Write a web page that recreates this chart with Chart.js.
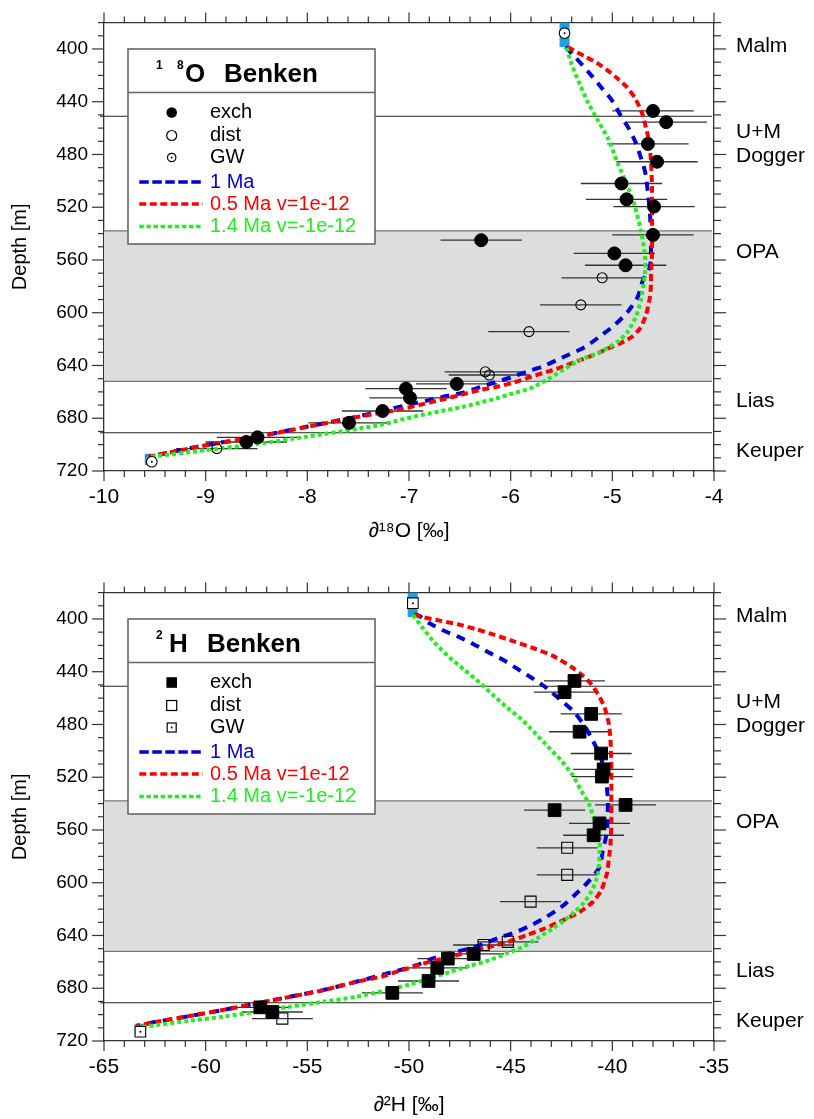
<!DOCTYPE html>
<html><head><meta charset="utf-8">
<script src="https://cdn.jsdelivr.net/npm/chart.js@4.4.0/dist/chart.umd.min.js"></script>
<style>
html,body{margin:0;padding:0;background:#fff;}
#c1{position:absolute;left:0;top:0;}
#c2{position:absolute;left:0;top:570px;}
</style></head><body>
<canvas id="c1" width="814" height="549"></canvas>
<canvas id="c2" width="814" height="549"></canvas>
<script>
const FONT = "'Liberation Sans', Arial, Helvetica, sans-serif";

// ---- depth axis (shared) ----
const depthMin = 380, depthMax = 720;
const depthTicks = [400, 440, 480, 520, 560, 600, 640, 680, 720];
const formationNames = ['Malm', 'U+M', 'Dogger', 'OPA', 'Lias', 'Keuper'];
const formationDepths = [397.7, 462.8, 481, 554.3, 667, 704.8];
const layerLines = [451, 691];
const opaTop = 538, opaBottom = 652;

// ---- sample depths (shared) ----
const exchDepth = [447, 455.5, 472, 485.5, 502, 514, 519.5, 541, 545, 555, 564, 654, 657.5, 664.5, 674.5, 683.5, 694.5, 698];
const distDepth = [573.5, 594, 614.3, 644.8, 647.2, 703];
const gwDepth = [388, 713];

// ---- delta 18O ----
const oTicks = [-10, -9, -8, -7, -6, -5, -4];
const exchO = [-4.60, -4.47, -4.65, -4.56, -4.91, -4.86, -4.59, -4.60, -6.29, -4.98, -4.87, -6.53, -7.03, -6.99, -7.26, -7.59, -8.49, -8.60];
const distO = [-5.10, -5.31, -5.82, -6.25, -6.21, -8.89];
const gwO = [-5.47, -9.53];
const errO = 0.4;
const o1MaDepth = [398.5, 406.6, 417.9, 428, 439.3, 450.2, 460, 470.9, 482.2, 492.3, 502.4, 525, 545, 565, 575.5, 588, 599.5, 609.5, 618.4, 626, 631.5, 636, 641, 644.9, 648.6, 651.7, 654.9, 658.2, 661.2, 663.8, 666.8, 669.5, 672.5, 678.9, 686.5, 694, 700.3, 707.9, 709.6];
const o1MaVal = [-5.46, -5.36, -5.23, -5.12, -5.00, -4.92, -4.84, -4.77, -4.72, -4.68, -4.66, -4.63, -4.62, -4.63, -4.70, -4.75, -4.85, -4.98, -5.13, -5.27, -5.42, -5.55, -5.69, -5.85, -5.98, -6.11, -6.24, -6.37, -6.50, -6.67, -6.83, -6.99, -7.16, -7.52, -8.01, -8.50, -8.99, -9.48, -9.58];
const o05Depth = [398.5, 402.8, 406, 411.1, 416.1, 421.7, 428.7, 436.8, 448.2, 459.5, 469.6, 484.7, 504.9, 530, 555.3, 570.4, 578, 588, 602, 612, 618.4, 623.4, 627.7, 632.2, 636, 639.8, 643.6, 646.6, 649.9, 653.2, 655.7, 658.7, 662.5, 666.3, 670, 673.3, 675.1, 678.9, 686.5, 694, 700.3, 707.9, 709.6];
const o05Val = [-5.44, -5.34, -5.26, -5.14, -5.05, -4.96, -4.86, -4.78, -4.71, -4.67, -4.64, -4.62, -4.61, -4.61, -4.61, -4.62, -4.62, -4.63, -4.67, -4.73, -4.81, -4.93, -5.06, -5.19, -5.32, -5.45, -5.59, -5.72, -5.85, -5.98, -6.11, -6.31, -6.50, -6.70, -6.90, -7.09, -7.22, -7.50, -8.00, -8.49, -8.98, -9.48, -9.58];
const o14Depth = [399, 411.6, 426.7, 440.6, 454.5, 468.3, 486, 502.4, 518.8, 537.7, 555.3, 570.4, 590.6, 603.3, 614.6, 620.9, 626, 631, 636, 643.6, 651.1, 657.4, 661.2, 665, 668.3, 671.3, 673.8, 676.3, 678.9, 681.9, 685.2, 694, 699.5, 704.1, 708.6, 709.6];
const o14Val = [-5.45, -5.40, -5.32, -5.24, -5.14, -5.04, -4.95, -4.86, -4.78, -4.72, -4.68, -4.68, -4.72, -4.77, -4.85, -4.93, -5.03, -5.16, -5.32, -5.49, -5.65, -5.81, -5.98, -6.14, -6.31, -6.47, -6.63, -6.80, -6.96, -7.12, -7.29, -8.01, -8.50, -8.99, -9.48, -9.58];
const oBcTop = [-5.47, 380, 398.5];
const oBcBottom = [-9.55, 707, 715.5];

// ---- delta 2H ----
const hTicks = [-65, -60, -55, -50, -45, -40, -35];
const exchH = [-41.86, -42.35, -41.04, -41.61, -40.55, -40.43, -40.51, -39.35, -42.84, -40.63, -40.92, -46.82, -48.09, -48.61, -49.04, -50.82, -57.31, -56.72];
const distH = [-42.22, -42.22, -44.02, -45.14, -46.33, -56.23];
const gwH = [-49.81, -63.21];
const errH = 1.5;
const h1MaDepth = [396.5, 397.7, 403.3, 409.1, 413.6, 419.1, 425, 431, 437.3, 444.4, 451.2, 460.7, 469.6, 480.9, 492.3, 502.3, 515, 527.6, 537.7, 555.3, 566.6, 575.5, 588.1, 599.5, 609.5, 618.4, 626, 632.2, 637.3, 641.5, 646, 649.9, 653.2, 657.4, 662.5, 666.3, 669.3, 675.1, 681.4, 686.5, 691.5, 696.5, 701.1, 705.4, 708.6];
const h1MaVal = [-49.75, -49.48, -48.99, -48.25, -47.55, -46.82, -46.12, -45.38, -44.72, -43.99, -43.33, -42.60, -41.94, -41.37, -40.96, -40.63, -40.38, -40.27, -40.22, -40.24, -40.33, -40.47, -40.63, -41.20, -41.86, -42.51, -43.25, -43.99, -44.72, -45.54, -46.28, -47.02, -47.92, -48.82, -49.64, -50.46, -51.20, -52.59, -54.23, -55.87, -57.51, -59.15, -60.79, -62.42, -63.41];
const h05Depth = [396.5, 397.7, 401, 404, 407.8, 412.1, 417.2, 422.2, 428, 436.8, 443.1, 449.4, 457, 467.1, 479.7, 492.3, 509.9, 530.1, 555.3, 570.4, 578, 593.1, 605.8, 614.6, 622.2, 628.4, 634.7, 639.8, 644.9, 648.6, 652.4, 656.2, 660, 663.8, 667.6, 671.3, 675.1, 681.4, 686.5, 691.5, 696.5, 701.1, 705.4, 708.6];
const h05Val = [-49.75, -49.56, -48.58, -47.60, -46.69, -45.79, -44.81, -43.87, -42.92, -41.97, -41.45, -41.04, -40.71, -40.38, -40.17, -40.09, -40.05, -40.05, -40.05, -40.09, -40.14, -40.27, -40.55, -40.96, -41.61, -42.43, -43.33, -44.23, -45.14, -46.04, -47.02, -48.00, -48.99, -49.81, -50.62, -51.36, -52.60, -54.20, -55.85, -57.50, -59.15, -60.80, -62.40, -63.40];
const h14Depth = [397, 407, 417.9, 429.3, 438.6, 448.2, 457.5, 466.6, 475.9, 486, 496.8, 507.4, 518.8, 530.1, 540.2, 552.8, 562.9, 578, 593.1, 604.5, 614.6, 622.2, 628.4, 634.7, 641.1, 648.6, 653.6, 658.7, 663, 667.6, 672.5, 677.1, 681.4, 686.5, 690.3, 694, 697.8, 701.6, 704.6, 707.9, 709.6];
const h14Val = [-49.81, -49.32, -48.74, -48.00, -47.27, -46.53, -45.88, -45.22, -44.48, -43.83, -43.17, -42.51, -41.94, -41.53, -41.15, -40.87, -40.63, -40.63, -40.71, -40.96, -41.37, -41.86, -42.35, -42.92, -43.58, -44.40, -45.22, -46.04, -47.02, -48.00, -48.99, -49.97, -51.11, -52.59, -54.23, -55.87, -57.51, -59.15, -60.79, -62.42, -63.24];
const hBcTop = [-49.82, 380, 398.5];
const hBcBottom = [-63.25, 707, 715.5];

const seriesLabels = ['exch', 'dist', 'GW', '1 Ma', '0.5 Ma v=1e-12', '1.4 Ma v=-1e-12'];
const COL_BLUE = '#0000dd', COL_RED = '#ff0000', COL_GREEN = '#22ee22', COL_CYAN = '#1da1e0';
const DASH = {blue: [9, 7], red: [7, 4], green: [4, 3]};

function pts(vals, depths) { return vals.map((v, i) => ({x: v, y: depths[i]})); }
function bc(a) { return [{x: a[0], y: a[1]}, {x: a[0], y: a[2]}]; }

function makeDeco(cfg) {
  return {
    id: 'deco',
    beforeDatasetsDraw(chart) {
      const {ctx, chartArea: a} = chart; const xs = chart.scales.x, ys = chart.scales.y;
      ctx.save();
      const t = ys.getPixelForValue(opaTop), b = ys.getPixelForValue(opaBottom);
      ctx.fillStyle = '#dcdddd'; ctx.fillRect(a.left, t, a.right - a.left - 2, b - t);
      ctx.strokeStyle = '#777'; ctx.lineWidth = 1.2;
      ctx.beginPath(); ctx.moveTo(a.left, t); ctx.lineTo(a.right - 2, t); ctx.moveTo(a.left, b); ctx.lineTo(a.right - 2, b); ctx.stroke();
      ctx.strokeStyle = '#222'; ctx.lineWidth = 1.2;
      layerLines.forEach(d => { const p = ys.getPixelForValue(d); ctx.beginPath(); ctx.moveTo(a.left - 4, p); ctx.lineTo(a.right - 2, p); ctx.stroke(); });
      ctx.strokeStyle = '#333'; ctx.lineWidth = 1.3;
      cfg.bars.forEach(s => s[0].forEach((v, i) => {
        const py = ys.getPixelForValue(s[1][i]);
        ctx.beginPath(); ctx.moveTo(xs.getPixelForValue(v - cfg.err), py); ctx.lineTo(xs.getPixelForValue(v + cfg.err), py); ctx.stroke();
      }));
      ctx.restore();
    },
    afterDraw(chart) {
      const {ctx, chartArea: a} = chart;
      ctx.save();
      ctx.strokeStyle = '#333'; ctx.lineWidth = 1.2;
      const tick = (scale, side, minor, major, lMaj, lMin) => {
        const n = Math.round((scale.max - scale.min) / minor);
        for (let i = 0; i <= n; i++) {
          const v = scale.min + i * minor;
          const isMaj = Math.abs(v / major - Math.round(v / major)) < 1e-6;
          const len = isMaj ? lMaj : lMin;
          const p = scale.getPixelForValue(v);
          ctx.beginPath();
          if (side === 'bottom') { ctx.moveTo(p, a.bottom); ctx.lineTo(p, a.bottom + len); }
          if (side === 'top') { ctx.moveTo(p, a.top); ctx.lineTo(p, a.top - len); }
          if (side === 'left') { ctx.moveTo(a.left, p); ctx.lineTo(a.left - len, p); }
          if (side === 'right') { ctx.moveTo(a.right, p); ctx.lineTo(a.right + len, p); }
          ctx.stroke();
        }
      };
      tick(chart.scales.x, 'bottom', cfg.minorX, cfg.majorX, 10, 6);
      tick(chart.scales.x2, 'top', cfg.minorX, cfg.majorX, 10, 6);
      tick(chart.scales.y, 'left', 10, 40, 12, 6);
      tick(chart.scales.y2, 'right', 10, 40, 12, 7);

      // legend box
      const L = 128, T = 49, W = 247, H = 195;
      ctx.fillStyle = '#fff'; ctx.fillRect(L, T, W, H);
      ctx.strokeStyle = '#666'; ctx.lineWidth = 1.6; ctx.strokeRect(L, T, W, H);
      ctx.beginPath(); ctx.moveTo(L, 92.5); ctx.lineTo(L + W, 92.5); ctx.stroke();
      ctx.fillStyle = '#000'; ctx.textAlign = 'left'; ctx.textBaseline = 'alphabetic';
      ctx.font = 'bold 12px ' + FONT;
      cfg.titleSup.forEach(s => ctx.fillText(s[0], s[1], 68.5));
      ctx.font = 'bold 26px ' + FONT;
      cfg.titleMain.forEach(s => ctx.fillText(s[0], s[1], 81.5));
      const rows = [112.5, 135.5, 157.5, 182, 204, 226.5];
      const mx = 171.7;
      const ds = chart.data.datasets;
      ctx.font = '20px ' + FONT; ctx.textBaseline = 'middle';
      const txtCol = ['#000', '#000', '#000', COL_BLUE, COL_RED, COL_GREEN];
      seriesLabels.forEach((lab, i) => {
        ctx.fillStyle = txtCol[i];
        ctx.fillText(lab, 210, rows[i]);
      });
      // markers
      const y0 = rows[0], y1 = rows[1], y2 = rows[2];
      ctx.lineWidth = 1.2; ctx.strokeStyle = '#000'; ctx.fillStyle = '#000';
      if (cfg.square) {
        ctx.fillRect(mx - 5.3, y0 - 5.3, 10.6, 10.6);
        ctx.strokeRect(mx - 5, y1 - 5, 10, 10);
        ctx.fillStyle = '#fff'; ctx.fillRect(mx - 4.5, y2 - 4.5, 9, 9); ctx.strokeRect(mx - 4.5, y2 - 4.5, 9, 9);
      } else {
        ctx.beginPath(); ctx.arc(mx, y0, 5.3, 0, 2 * Math.PI); ctx.fill();
        ctx.beginPath(); ctx.arc(mx, y1, 5, 0, 2 * Math.PI); ctx.stroke();
        ctx.fillStyle = '#fff'; ctx.beginPath(); ctx.arc(mx, y2, 4.2, 0, 2 * Math.PI); ctx.fill(); ctx.stroke();
      }
      ctx.fillStyle = '#000'; ctx.beginPath(); ctx.arc(mx, y2, 0.9, 0, 2 * Math.PI); ctx.fill();
      // lines
      const lineRow = (y, col, dash) => {
        ctx.save(); ctx.strokeStyle = col; ctx.lineWidth = 3.5; ctx.setLineDash(dash);
        ctx.beginPath(); ctx.moveTo(139.3, y); ctx.lineTo(202.7, y); ctx.stroke(); ctx.restore();
      };
      lineRow(rows[3], COL_BLUE, [9.5, 3.5]);
      lineRow(rows[4], COL_RED, [7, 3.5]);
      lineRow(rows[5], COL_GREEN, [4.5, 2.6]);

      // formation labels are y2 ticks
      ctx.restore();
    }
  };
}

function makeChart(id, cfg) {
  const square = cfg.square;
  const datasets = [
    {label: seriesLabels[0], data: pts(cfg.exch, exchDepth), showLine: false,
      pointStyle: square ? 'rect' : 'circle', pointRadius: square ? 9 : 6.5,
      backgroundColor: '#000', borderColor: '#000', borderWidth: 1},
    {label: seriesLabels[1], data: pts(cfg.dist, distDepth), showLine: false,
      pointStyle: square ? 'rect' : 'circle', pointRadius: square ? 7.8 : 5,
      backgroundColor: 'rgba(0,0,0,0)', borderColor: '#000', borderWidth: 1.1},
    {label: 'GW dot', data: pts(cfg.gw, gwDepth), showLine: false, pointStyle: 'circle', pointRadius: 1,
      backgroundColor: '#000', borderColor: '#000', borderWidth: 0},
    {label: seriesLabels[2], data: pts(cfg.gw, gwDepth), showLine: false,
      pointStyle: square ? 'rect' : 'circle', pointRadius: square ? 7.5 : 5.3,
      backgroundColor: '#fff', borderColor: '#000', borderWidth: 1.1},
    {label: seriesLabels[5], data: pts(cfg.c14[1], cfg.c14[0]), showLine: true, pointRadius: 0,
      borderColor: COL_GREEN, borderWidth: 4, borderDash: DASH.green, tension: 0.25, fill: false},
    {label: seriesLabels[4], data: pts(cfg.c05[1], cfg.c05[0]), showLine: true, pointRadius: 0,
      borderColor: COL_RED, borderWidth: 4, borderDash: DASH.red, tension: 0.25, fill: false},
    {label: seriesLabels[3], data: pts(cfg.c1[1], cfg.c1[0]), showLine: true, pointRadius: 0,
      borderColor: COL_BLUE, borderWidth: 4, borderDash: DASH.blue, tension: 0.25, fill: false},
    {label: 'bc top', data: bc(cfg.bcTop), showLine: true, pointRadius: 0, borderColor: COL_CYAN, borderWidth: 10, borderCapStyle: 'butt'},
    {label: 'bc bottom', data: bc(cfg.bcBottom), showLine: true, pointRadius: 0, borderColor: COL_CYAN, borderWidth: 10, borderCapStyle: 'butt'}
  ];
  const xt = cfg.xTicks;
  const axisBorder = {display: true, color: '#333', width: 1.3};
  const noTick = {display: true, drawOnChartArea: false, drawTicks: true, tickColor: 'rgba(0,0,0,0)'};
  return new Chart(document.getElementById(id), {
    type: 'scatter',
    data: {datasets},
    plugins: [makeDeco(cfg)],
    options: {
      responsive: false, animation: false, devicePixelRatio: 1,
      layout: {padding: 0},
      events: [],
      plugins: {legend: {display: false}, tooltip: {enabled: false}},
      scales: {
        x: {type: 'linear', position: 'bottom', min: xt[0], max: xt[xt.length - 1],
          afterBuildTicks: s => { s.ticks = xt.map(v => ({value: v})); },
          afterFit: s => { s.height = 78; },
          ticks: {font: {family: FONT, size: 21}, color: '#000', padding: 4, maxRotation: 0, autoSkip: false, callback: v => String(v)},
          grid: Object.assign({tickLength: 10}, noTick), border: axisBorder,
          title: {display: true, text: cfg.xTitle, font: {family: FONT, size: 21}, color: '#000', padding: {top: 0, bottom: cfg.titlePad}}},
        x2: {type: 'linear', position: 'top', min: xt[0], max: xt[xt.length - 1],
          afterBuildTicks: s => { s.ticks = xt.map(v => ({value: v})); },
          afterFit: s => { s.height = 22; },
          ticks: {display: false}, grid: Object.assign({tickLength: 10}, noTick), border: axisBorder},
        y: {type: 'linear', position: 'left', reverse: true, min: depthMin, max: depthMax,
          afterBuildTicks: s => { s.ticks = depthTicks.map(v => ({value: v})); },
          afterFit: s => { s.width = 104; },
          ticks: {font: {family: FONT, size: 19}, color: '#000', padding: 4, autoSkip: false, callback: v => String(v)},
          grid: Object.assign({tickLength: 12}, noTick), border: axisBorder,
          title: {display: true, text: 'Depth [m]', font: {family: FONT, size: 20}, color: '#000', padding: {top: 8, bottom: 0}}},
        y2: {type: 'linear', position: 'right', reverse: true, min: depthMin, max: depthMax,
          afterBuildTicks: s => { s.ticks = formationDepths.map(v => ({value: v})); },
          afterFit: s => { s.width = 100; },
          ticks: {font: {family: FONT, size: 21}, color: '#000', padding: 10, autoSkip: false, callback: (v, i) => formationNames[i]},
          grid: Object.assign({tickLength: 12}, noTick), border: axisBorder}
      }
    }
  });
}

makeChart('c1', {
  square: false, xTicks: oTicks, minorX: 0.2, majorX: 1, err: errO,
  xTitle: '\u2202\u00B9\u2078O [\u2030]', titlePad: 5.4,
  exch: exchO, dist: distO, gw: gwO,
  c1: [o1MaDepth, o1MaVal], c05: [o05Depth, o05Val], c14: [o14Depth, o14Val],
  bcTop: oBcTop, bcBottom: oBcBottom,
  bars: [[exchO, exchDepth], [distO, distDepth]],
  titleSup: [['1', 156], ['8', 177]], titleMain: [['O', 185], ['Benken', 224]]
});
makeChart('c2', {
  square: true, xTicks: hTicks, minorX: 1, majorX: 5, err: errH,
  xTitle: '\u2202\u00B2H [\u2030]', titlePad: 1.4,
  exch: exchH, dist: distH, gw: gwH,
  c1: [h1MaDepth, h1MaVal], c05: [h05Depth, h05Val], c14: [h14Depth, h14Val],
  bcTop: hBcTop, bcBottom: hBcBottom,
  bars: [[exchH, exchDepth], [distH, distDepth]],
  titleSup: [['2', 156]], titleMain: [['H', 169], ['Benken', 207]]
});
</script>
</body></html>
